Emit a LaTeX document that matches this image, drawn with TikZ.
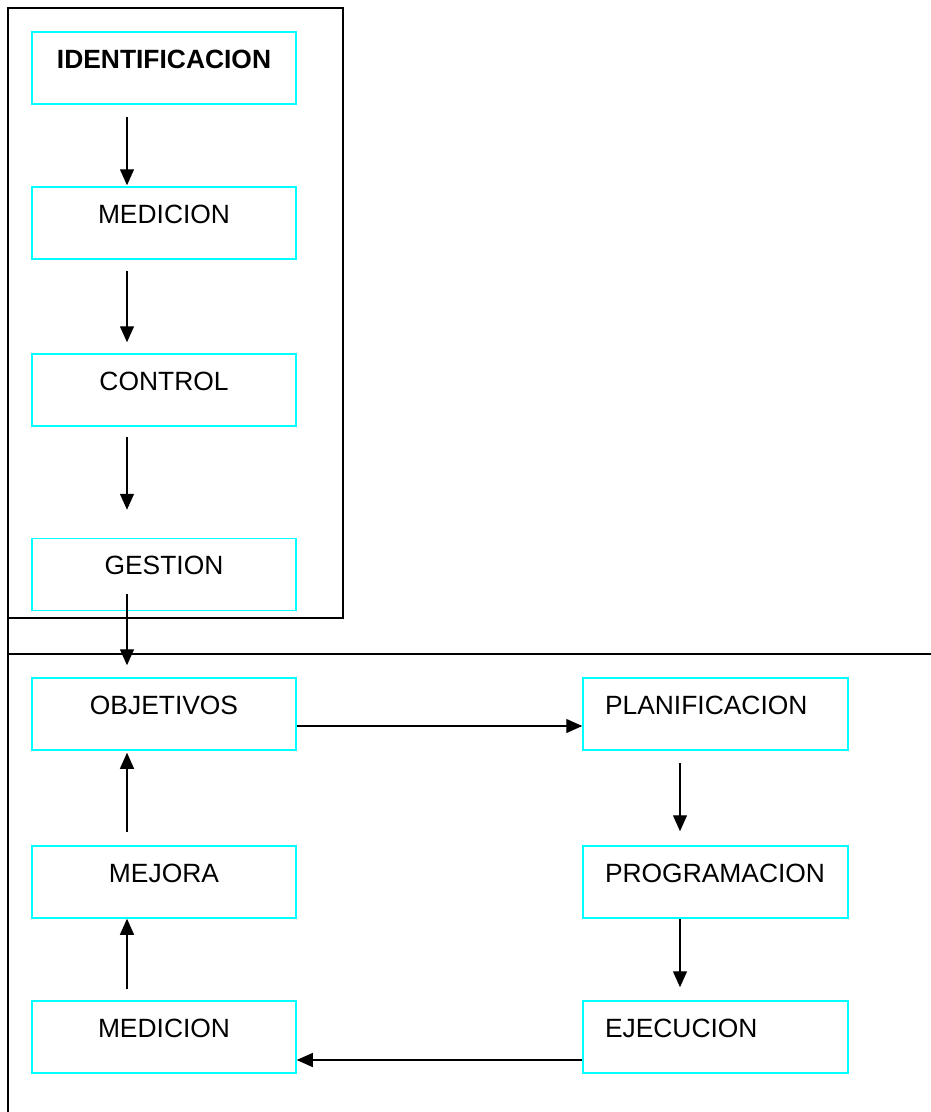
\documentclass[tikz,border=0pt]{standalone}
\usepackage{fontspec}
\setmainfont{Liberation Sans}
\usepackage{tikz}
\usetikzlibrary{positioning,arrows.meta}
\definecolor{cian}{RGB}{0,255,255}
\tikzstyle{caja}=[draw=cian, line width=1.5pt, rectangle, minimum width=264pt, inner ysep=0pt, text height=36pt, text depth=36pt, font=\fontsize{26.4}{30}\selectfont]
\tikzstyle{cajad}=[caja, inner xsep=22pt, text width=221pt, align=left]
\tikzstyle{flecha}=[-{Triangle[length=16pt,width=14pt]}, line width=1.3pt]
\tikzstyle{marco}=[line width=1.5pt]

\begin{document}
\begin{tikzpicture}[x=1pt, y=-1pt]
        \useasboundingbox (0,0) rectangle (931,1112);

        \draw[marco] (8,8) rectangle (343,618);
        \draw[marco] (8,592) -- (8,1112);
        \draw[marco] (8,654) -- (931,654);

        \node[caja] (ident) at (164,68) {\bfseries IDENTIFICACION};
        \node[caja] (medi) at (164,223) {MEDICION};
        \node[caja] (contr) at (164,390) {CONTROL};
        \node[caja] (gest) at (164,574.5) {GESTION};
        \node[caja] (objet) at (164,714) {OBJETIVOS};
        \node[caja] (mejor) at (164,882) {MEJORA};
        \node[caja] (medf) at (164,1037) {MEDICION};
        \node[cajad] (plani) at (715.5,714) {PLANIFICACION};
        \node[cajad] (progr) at (715.5,882) {PROGRAMACION};
        \node[cajad] (ejecu) at (715.5,1037) {EJECUCION};

        \draw[flecha, shorten <=12pt, shorten >=1pt] ([xshift=-37pt]ident.south) -- ([xshift=-37pt]medi.north);
        \draw[flecha, shorten <=11pt, shorten >=11pt] ([xshift=-37pt]medi.south) -- ([xshift=-37pt]contr.north);
        \draw[flecha, shorten <=10pt, shorten >=28pt] ([xshift=-37pt]contr.south) -- ([xshift=-37pt]gest.north);
        \draw[flecha, shorten <=-17pt, shorten >=12pt] ([xshift=-37pt]gest.south) -- ([xshift=-37pt]objet.north);
        \draw[flecha] ([yshift=-12pt]objet.east) -- ([yshift=-12pt]plani.west);
        \draw[flecha, shorten <=12pt, shorten >=14pt] ([xshift=-35.5pt]plani.south) -- ([xshift=-35.5pt]progr.north);
        \draw[flecha, shorten >=13pt] ([xshift=-35.5pt]progr.south) -- ([xshift=-35.5pt]ejecu.north);
        \draw[flecha] ([yshift=-23pt]ejecu.west) -- ([yshift=-23pt]medf.east);
        \draw[flecha, shorten <=11pt] ([xshift=-37pt]medf.north) -- ([xshift=-37pt]mejor.south);
        \draw[flecha, shorten <=13pt, shorten >=2pt] ([xshift=-37pt]mejor.north) -- ([xshift=-37pt]objet.south);
    \end{tikzpicture}
\end{document}
